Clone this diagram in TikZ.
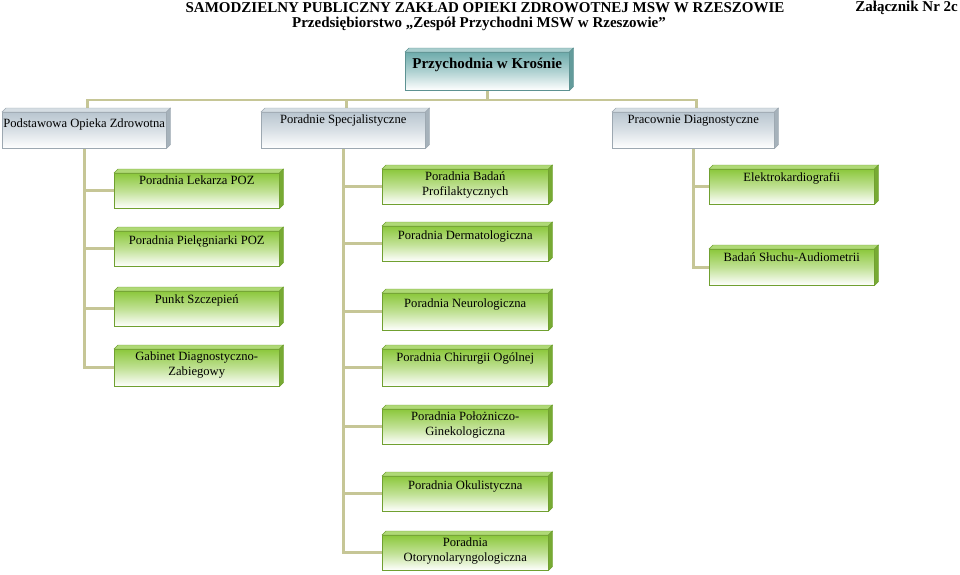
\documentclass[tikz,border=0pt]{standalone}
\usepackage{fontspec}
\setmainfont{Liberation Serif}
\usetikzlibrary{calc}
\pgfdeclarelayer{bg}
\pgfsetlayers{bg,main}
\definecolor{gr}{RGB}{140,200,60}
\colorlet{grD}{gr!80!black}
\colorlet{grT}{gr!70!white}
\colorlet{grS}{gr!85!black}
\definecolor{gy}{RGB}{185,198,208}
\colorlet{gyD}{gy!85!black}
\colorlet{gyT}{gy!60!white}
\colorlet{gyS}{gy!90!black}
\definecolor{tl}{RGB}{110,172,172}
\colorlet{tlD}{tl!85!black}
\colorlet{tlT}{tl!60!white}
\colorlet{tlS}{tl!90!black}
\definecolor{lineC}{RGB}{198,198,150}
\tikzset{
  face/.style={rectangle, inner sep=0pt, line width=0.5pt},
  lbl/.style={inner sep=0pt, align=center, font=\fontsize{12.6}{15}\selectfont},
  conn/.style={draw=lineC, line width=2.8pt},
  hdr/.style={inner sep=0pt, font=\bfseries\fontsize{15}{18}\selectfont}
}
% #1 name, #2 x left, #3 y top (downwards), #4 width, #5 height, #6 colour base, #7 text offset, #8 text
\newcommand\obox[8]{%
  \node[face, top color=#6, bottom color=white, middle color=#6!55!white, draw=#6D,
        minimum width=#4pt-4pt, minimum height=#5pt-4pt, anchor=north west]
        (#1) at (#2,-#3-4) {};
  \filldraw[fill=#6T, draw=#6D, line width=0.4pt] (#1.north west) -- ++(4pt,4pt)
     -- ($(#1.north east)+(4pt,4pt)$) -- (#1.north east) -- cycle;
  \filldraw[fill=#6S, draw=#6D, line width=0.4pt] (#1.north east) -- ++(4pt,4pt)
     -- ($(#1.south east)+(4pt,4pt)$) -- (#1.south east) -- cycle;
  \node[lbl, anchor=north] (#1-t) at ($(#1.north)+(0,-#7pt)$) {#8};
}
\begin{document}
\begin{tikzpicture}[x=1pt,y=1pt]
\useasboundingbox (0,0) rectangle (960,-574);

% header
\node[hdr] (h1) at (485,-8) {SAMODZIELNY PUBLICZNY ZAKŁAD OPIEKI ZDROWOTNEJ MSW W RZESZOWIE};
\node[hdr] (h2) at (479,-24) {Przedsiębiorstwo „Zespół Przychodni MSW w Rzeszowie”};
\node[hdr, anchor=east] (h3) at (958,-8) {Załącznik Nr 2c};

% top
\obox{top}{405}{48}{168}{42}{tl}{6}{\bfseries\fontsize{15}{18}\selectfont Przychodnia w Krośnie}

% level 2
\obox{poz}{2}{108}{168}{40}{gy}{7}{Podstawowa Opieka Zdrowotna}
\obox{spec}{261}{108}{168}{40}{gy}{3}{Poradnie Specjalistyczne}
\obox{prac}{612}{108}{166}{40}{gy}{3}{Pracownie Diagnostyczne}

% left column
\obox{lek}{114}{169}{169}{39}{gr}{3}{Poradnia Lekarza POZ}
\obox{piel}{114}{227}{169}{39}{gr}{5}{Poradnia Pielęgniarki POZ}
\obox{szcz}{114}{287}{169}{39}{gr}{4}{Punkt Szczepień}
\obox{gab}{114}{345}{169}{41}{gr}{3}{Gabinet Diagnostyczno-\\Zabiegowy}

% middle column
\obox{bad}{382}{165}{170}{39}{gr}{3}{Poradnia Badań\\Profilaktycznych}
\obox{derm}{382}{222}{170}{39}{gr}{5}{Poradnia Dermatologiczna}
\obox{neur}{382}{289}{170}{41}{gr}{6}{Poradnia Neurologiczna}
\obox{chir}{382}{345}{170}{41}{gr}{4}{Poradnia Chirurgii Ogólnej}
\obox{pol}{382}{405}{170}{39}{gr}{3}{Poradnia Położniczo-\\Ginekologiczna}
\obox{oku}{382}{472}{170}{39}{gr}{5}{Poradnia Okulistyczna}
\obox{oto}{382}{531}{170}{39}{gr}{3}{Poradnia\\Otorynolaryngologiczna}

% right column
\obox{ekg}{709}{165}{169}{39}{gr}{3}{Elektrokardiografii}
\obox{aud}{709}{245}{169}{40}{gr}{4}{Badań Słuchu-Audiometrii}

\coordinate (hub) at (487,-100);
\begin{pgfonlayer}{bg}
\fill[white] (0,0) rectangle (960,-574);
\draw[conn] (top.south) -- (top.south |- hub);
\draw[conn] ([xshift=3pt]poz.north) |- (hub) -| ([xshift=3pt]prac.north);
\draw[conn] ([xshift=3pt]spec.north) -- ([xshift=3pt]spec.north |- hub);
\foreach \c in {lek,piel,szcz,gab} \draw[conn] (poz.south) |- (\c.west);
\foreach \c in {bad,derm,neur,chir,pol,oku,oto} \draw[conn] (spec.south) |- (\c.west);
\foreach \c in {ekg,aud} \draw[conn] (prac.south) |- (\c.west);
\end{pgfonlayer}
\end{tikzpicture}
\end{document}
